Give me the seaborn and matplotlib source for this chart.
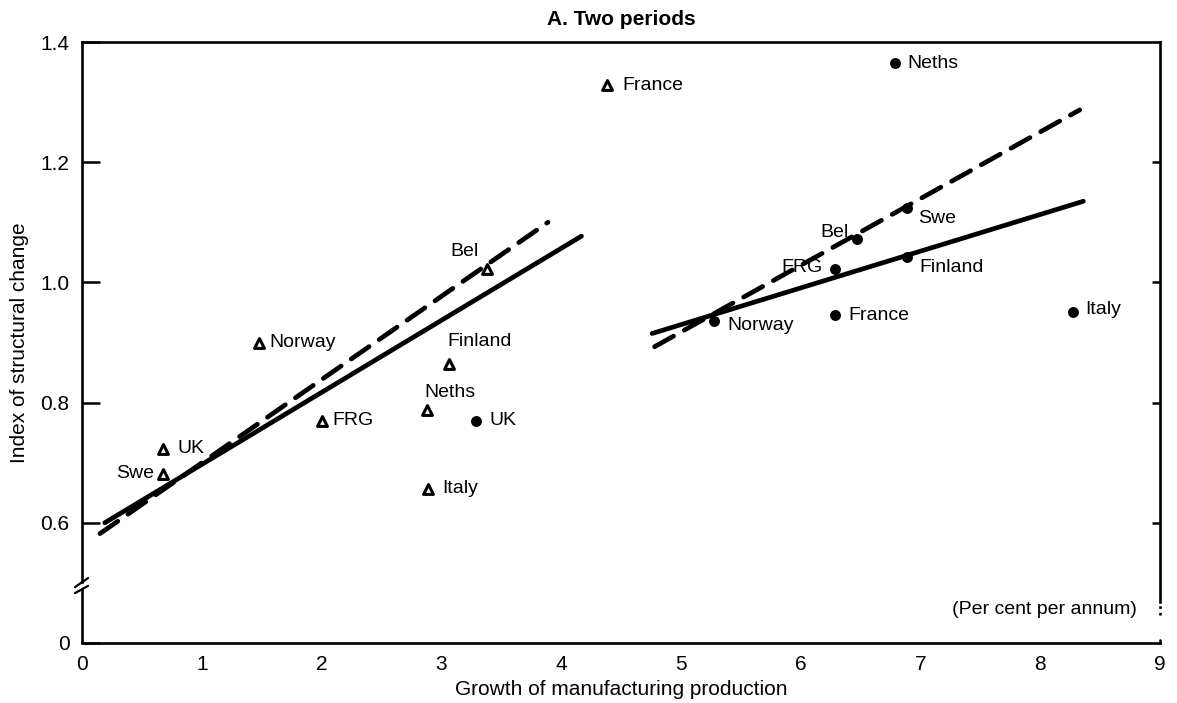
import matplotlib
matplotlib.use("Agg")
import matplotlib.pyplot as plt
import seaborn as sns
import pandas as pd

# First period (triangles)
p1_countries = ["France", "Bel", "Norway", "Finland", "Neths", "FRG", "UK", "Swe", "Italy"]
p1_growth = [4.38, 3.38, 1.48, 3.06, 2.88, 2.00, 0.68, 0.68, 2.89]
p1_index = [1.328, 1.023, 0.900, 0.865, 0.787, 0.770, 0.723, 0.682, 0.657]

# Second period (dots)
p2_countries = ["UK", "Neths", "Swe", "Bel", "FRG", "Finland", "Norway", "France", "Italy"]
p2_growth = [3.29, 6.79, 6.89, 6.47, 6.29, 6.89, 5.28, 6.29, 8.27]
p2_index = [0.770, 1.365, 1.123, 1.073, 1.022, 1.043, 0.935, 0.945, 0.950]

# Fitted lines (endpoints)
fit1_solid_x = [0.19, 4.17]
fit1_solid_y = [0.600, 1.077]
fit1_dash_x = [0.15, 3.89]
fit1_dash_y = [0.582, 1.100]
fit2_solid_x = [4.76, 8.36]
fit2_solid_y = [0.915, 1.135]
fit2_dash_x = [4.78, 8.33]
fit2_dash_y = [0.893, 1.287]

x_ticks = [0, 1, 2, 3, 4, 5, 6, 7, 8, 9]
y_ticks = [0.4, 0.6, 0.8, 1.0, 1.2, 1.4]
y_tick_labels = ["0", "0.6", "0.8", "1.0", "1.2", "1.4"]

# label offsets in points (dx, dy, ha)
p1_label_pos = {
    "France": (11, 0, "left"), "Bel": (-6, 12, "right"), "Norway": (7, 0, "left"),
    "Finland": (-1, 16, "left"), "Neths": (-2, 13, "left"), "FRG": (8, 0, "left"),
    "UK": (10, 0, "left"), "Swe": (-7, 0, "right"), "Italy": (10, 0, "left"),
}
p2_label_pos = {
    "UK": (10, 0, "left"), "Neths": (9, 0, "left"), "Swe": (8, -7, "left"),
    "Bel": (-6, 4, "right"), "FRG": (-9, 1, "right"), "Finland": (9, -8, "left"),
    "Norway": (9, -3, "left"), "France": (9, 0, "left"), "Italy": (9, 2, "left"),
}

sns.set_style("white")
plt.rcParams["font.family"] = ["Liberation Sans", "DejaVu Sans"]
plt.rcParams.update({"text.color": "black", "axes.labelcolor": "black",
                     "xtick.color": "black", "ytick.color": "black"})

fig = plt.figure(figsize=(11.77, 7.03), dpi=100)
ax = fig.add_axes([82 / 1177, 1 - 643 / 703, 1078 / 1177, 601 / 703])

df1 = pd.DataFrame({"growth": p1_growth, "index": p1_index})
df2 = pd.DataFrame({"growth": p2_growth, "index": p2_index})

sns.lineplot(x=fit1_solid_x, y=fit1_solid_y, ax=ax, color="black", lw=3.4,
             solid_capstyle="round")
sns.lineplot(x=fit2_solid_x, y=fit2_solid_y, ax=ax, color="black", lw=3.4,
             solid_capstyle="round")
for fx, fy in [(fit1_dash_x, fit1_dash_y), (fit2_dash_x, fit2_dash_y)]:
    line = sns.lineplot(x=fx, y=fy, ax=ax, color="black", lw=3.4).lines[-1]
    line.set_dashes((4.6, 2.6))
    line.set_dash_capstyle("round")

sns.scatterplot(data=df1, x="growth", y="index", ax=ax, marker="^", s=50,
                facecolor="white", edgecolor="black", linewidth=2.2, zorder=4)
sns.scatterplot(data=df2, x="growth", y="index", ax=ax, marker="o", s=62,
                color="black", edgecolor="black", linewidth=0, zorder=4)

for name, gx, gy in zip(p1_countries, p1_growth, p1_index):
    dx, dy, ha = p1_label_pos[name]
    ax.annotate(name, (gx, gy), xytext=(dx, dy), textcoords="offset points",
                ha=ha, va="center", fontsize=14)
for name, gx, gy in zip(p2_countries, p2_growth, p2_index):
    dx, dy, ha = p2_label_pos[name]
    ax.annotate(name, (gx, gy), xytext=(dx, dy), textcoords="offset points",
                ha=ha, va="center", fontsize=14)

ax.set_xlim(0, 9)
ax.set_ylim(0.4, 1.4)
ax.set_xticks(x_ticks)
ax.set_yticks(y_ticks)
ax.set_yticklabels(y_tick_labels)
ax.tick_params(axis="x", direction="in", length=11, width=1.8, labelsize=15, pad=9)
ax.tick_params(axis="y", direction="in", length=13, width=1.8, labelsize=15, pad=9)

for side in ["left", "right", "top", "bottom"]:
    ax.spines[side].set_linewidth(1.9)
    ax.spines[side].set_color("black")
ax.spines["left"].set_bounds(0.5015, 1.4)
ax.spines["right"].set_bounds(0.468, 1.4)

# right-hand inner ticks
ax_r = ax.twinx()
ax_r.set_ylim(ax.get_ylim())
ax_r.set_yticks([0.6, 0.8, 1.0, 1.2])
ax_r.tick_params(axis="y", direction="in", length=6, width=1.8, labelright=False)
for side in ["left", "right", "top", "bottom"]:
    ax_r.spines[side].set_visible(False)

# axis break on the left and gap on the right
ax.plot([0, 0], [0.0, 0.0899], transform=ax.transAxes, color="black",
        lw=1.9, clip_on=False, solid_capstyle="butt")
for y0, y1 in [(0.093, 0.108), (0.083, 0.095)]:
    ax.plot([-0.0065, 0.0056], [y0, y1], transform=ax.transAxes, color="black",
            lw=1.6, clip_on=False)
ax.plot([1, 1], [0.047, 0.063], transform=ax.transAxes, color="black",
        lw=1.9, ls=(0, (1, 1.5)), clip_on=False)
ax.plot([1, 1], [0.0, 0.005], transform=ax.transAxes, color="black",
        lw=1.9, clip_on=False)

ax.text(0.979, 0.055, "(Per cent per annum)", transform=ax.transAxes,
        ha="right", va="center", fontsize=14)

ax.set_xlabel("Growth of manufacturing production", fontsize=15, labelpad=4)
ax.set_ylabel("Index of structural change", fontsize=15, labelpad=8)
ax.set_title("A. Two periods", fontsize=15, fontweight="bold", pad=12)

fig.savefig("out.png", dpi=100)
